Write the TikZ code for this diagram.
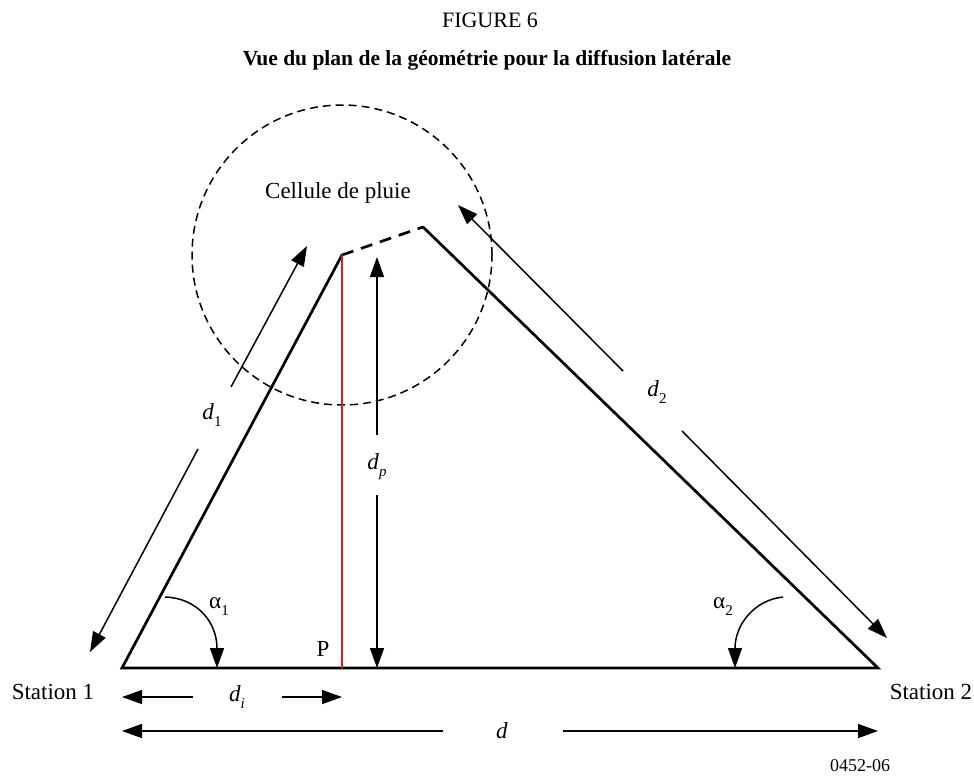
\documentclass[tikz,border=0pt]{standalone}
\usepackage{fontspec}
\setmainfont{Liberation Serif}
\usetikzlibrary{arrows.meta}
\definecolor{redline}{RGB}{220,30,35}
\newcommand{\dsub}[2]{\textit{#1}\raisebox{-0.3em}{\fontsize{15}{15}\selectfont #2}}
\begin{document}
\begin{tikzpicture}[x=1pt,y=-1pt,
  side/.style={line width=2.7pt, line cap=round, line join=miter},
  dimline/.style={line width=1.5pt},
  tipend/.style={-{Triangle[length=20pt,width=14pt]}},
  lab/.style={font=\fontsize{23}{27}\selectfont, inner sep=0pt},
  cellcircle/.style={line width=1.5pt, dash pattern=on 8pt off 5pt},
  apexdash/.style={line width=2.7pt, dash pattern=on 12pt off 8pt},
  redl/.style={line width=1.5pt, draw=redline}
]
\useasboundingbox (0,0) rectangle (974,780);

% titles
\node[inner sep=0pt, font=\fontsize{22}{26}\selectfont] (fig) at (490,20) {FIGURE 6};
\node[inner sep=0pt, font=\fontsize{21.5}{26}\selectfont\bfseries] (sub) at (487,60) {Vue du plan de la géométrie pour la diffusion latérale};

% main points
\coordinate (S1) at (122,668);
\coordinate (S2) at (878,668);
\coordinate (A) at (342,255);
\coordinate (B) at (423,227);
\coordinate (Pf) at (342,668);

% rain cell
\draw[cellcircle] (A) circle[radius=150pt];
\node[lab] (cell) at (338,193) {Cellule de pluie};

% triangle
\draw[side] (A) -- (S1) -- (S2) -- (B);
\draw[apexdash] (A) -- (B);
\draw[redl] (A) -- (Pf);

% labels
\node[lab] (st1) at (53,692) {Station 1};
\node[lab] (st2) at (931,692) {Station 2};
\node[lab] (lp) at (323,649) {P};
\node[lab] (ld1) at (212,415) {\dsub{d}{1}};
\node[lab] (ld2) at (657,392) {\dsub{d}{2}};
\node[lab] (ldp) at (377,467) {\dsub{d}{\textit{p}}};
\node[lab] (ldi) at (237,697) {\dsub{d}{\textit{i}}};
\node[lab] (ld) at (502,731) {\textit{d}};
\node[lab] (la1) at (219,607) {α\raisebox{-0.3em}{\fontsize{15}{15}\selectfont 1}};
\node[lab] (la2) at (723,607) {α\raisebox{-0.3em}{\fontsize{15}{15}\selectfont 2}};

% d1 dimension
\coordinate (d1t) at (307,246);
\coordinate (d1a) at (231,387);
\coordinate (d1b) at (198,449);
\coordinate (d1u) at (90,652);
\draw[dimline, tipend] (d1a) -- (d1t);
\draw[dimline, tipend] (d1b) -- (d1u);

% d2 dimension
\coordinate (d2t) at (458,205);
\coordinate (d2a) at (623,371);
\coordinate (d2b) at (682,431);
\coordinate (d2u) at (887,638);
\draw[dimline, tipend] (d2a) -- (d2t);
\draw[dimline, tipend] (d2b) -- (d2u);

% dp dimension
\coordinate (dpt) at (377,257);
\coordinate (dpa) at (377,435);
\coordinate (dpb) at (377,495);
\coordinate (dpu) at (377,668);
\draw[dimline, tipend] (dpa) -- (dpt);
\draw[dimline, tipend] (dpb) -- (dpu);

% di dimension
\coordinate (dil) at (122,697);
\coordinate (dia) at (193,697);
\coordinate (dib) at (282,697);
\coordinate (dir) at (342,697);
\draw[dimline, tipend] (dia) -- (dil);
\draw[dimline, tipend] (dib) -- (dir);

% d dimension
\coordinate (dl) at (122,731);
\coordinate (da) at (443,731);
\coordinate (db) at (563,731);
\coordinate (dr) at (878,731);
\draw[dimline, tipend] (da) -- (dl);
\draw[dimline, tipend] (db) -- (dr);

% angle arcs
\coordinate (a1s) at (165,597);
\coordinate (a1e) at (217,668);
\draw[dimline, tipend] (a1s) .. controls (197,598) and (217,622) .. (a1e);
\coordinate (a2s) at (783,597);
\coordinate (a2e) at (735,668);
\draw[dimline, tipend] (a2s) .. controls (754,600) and (735,625) .. (a2e);

% reference number
\node[inner sep=0pt, font=\fontsize{18}{22}\selectfont] (ref) at (860,766) {0452-06};
\end{tikzpicture}
\end{document}
